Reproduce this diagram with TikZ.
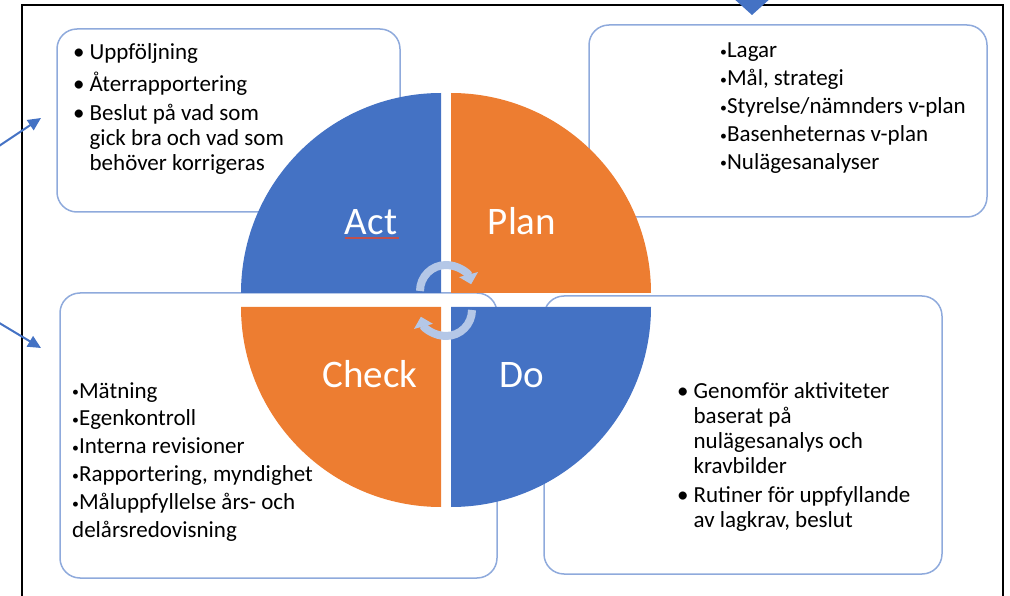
\documentclass[tikz,border=0pt]{standalone}
\usepackage{fontspec}
\usepackage{graphicx}
\setmainfont{Carlito}
\usetikzlibrary{arrows.meta}
\definecolor{pdblue}{HTML}{4472C4}
\definecolor{pdorange}{HTML}{ED7D31}
\definecolor{boxline}{HTML}{8FAADC}
\definecolor{cycleblue}{HTML}{B4C7E7}
\definecolor{spellred}{HTML}{C0504D}
\newcommand{\smallbul}{\raisebox{1.2pt}{\scalebox{0.6}{\textbullet}}}
\begin{document}
\begin{tikzpicture}[x=1pt,y=-1pt,
  infobox/.style={draw=boxline, line width=1.5pt, rounded corners=20pt},
  quadlabel/.style={anchor=base, inner sep=0pt, text=white, font=\fontsize{39}{42}\selectfont},
  listtext/.style={anchor=base west, inner sep=0pt, font=\fontsize{23}{25}\selectfont},
  listloose/.style={listtext, font=\fontsize{23}{27.8}\selectfont},
  pointer/.style={pdblue, line width=2pt, -{Triangle[length=13pt,width=12pt]}},
  cyclearrow/.style={cycleblue, line width=8pt, -{Triangle[length=10pt,width=19pt]}}]
\useasboundingbox (0,0) rectangle (1010,596);
% Frame
\draw[line width=2pt] (22,600) -- (22,5) -- (1003,5) -- (1003,600);
% Boxes
\draw[infobox] (57,29) rectangle (400,212);
\draw[infobox] (589,25) rectangle (987,217);
\draw[infobox] (60,293) rectangle (497,578);
\draw[infobox] (544,296) rectangle (942,574);
% Quadrants
\fill[pdblue] (441,293) -- ++(-200,0) arc[start angle=180, end angle=270, radius=200] -- cycle;
\fill[pdorange] (451,293) -- ++(0,-200) arc[start angle=270, end angle=360, radius=200] -- cycle;
\fill[pdorange] (441,307) -- ++(-200,0) arc[start angle=180, end angle=90, radius=200] -- cycle;
\fill[pdblue] (451,307) -- ++(200,0) arc[start angle=0, end angle=90, radius=200] -- cycle;
\node[quadlabel] (act) at (371,235) {Act};
\node[quadlabel] (plan) at (522,235) {Plan};
\node[quadlabel] (check) at (370,387) {Check};
\node[quadlabel] (do) at (522,387) {Do};
\draw[spellred, line width=1.3pt] (act.base west) ++(0,3) -- ++(54,0);
% Cycle arrows
\draw[cyclearrow] (446,291) ++(180:26) arc[start angle=180, end angle=345, radius=26];
\draw[cyclearrow] (446,310) ++(0:26) arc[start angle=0, end angle=165, radius=26];
% Lists
\node[listtext] (actlist) at (73,60) {\begin{tabular}[t]{@{}l@{\hspace{5pt}}l@{}}
\textbullet & Uppföljning\\[4.5pt]
\textbullet & Återrapportering\\[4.5pt]
\textbullet & Beslut på vad som\\
 & gick bra och vad som\\
 & behöver korrigeras
\end{tabular}};
\node[listloose] (planlist) at (720,58) {\begin{tabular}[t]{@{}l@{}}
\smallbul Lagar\\
\smallbul Mål, strategi\\
\smallbul Styrelse/nämnders v-plan\\
\smallbul Basenheternas v-plan\\
\smallbul Nulägesanalyser
\end{tabular}};
\node[listloose] (checklist) at (72,398) {\begin{tabular}[t]{@{}l@{}}
\smallbul Mätning\\
\smallbul Egenkontroll\\
\smallbul Interna revisioner\\
\smallbul Rapportering, myndighet\\
\smallbul Måluppfyllelse års- och\\
delårsredovisning
\end{tabular}};
\node[listtext] (dolist) at (677,398) {\begin{tabular}[t]{@{}l@{\hspace{5pt}}l@{}}
\textbullet & Genomför aktiviteter\\
 & baserat på\\
 & nulägesanalys och\\
 & kravbilder\\[4.5pt]
\textbullet & Rutiner för uppfyllande\\
 & av lagkrav, beslut
\end{tabular}};
% Pointers
\coordinate (actfrom) at (-4,148);
\coordinate (actto) at (41,118);
\coordinate (checkfrom) at (-4,321);
\coordinate (checkto) at (41,348);
\coordinate (topfrom) at (752,-40);
\coordinate (topto) at (752,15);
\draw[pointer] (actfrom) -- (actto);
\draw[pointer] (checkfrom) -- (checkto);
\draw[pdblue, line width=2pt, -{Triangle[length=20pt,width=44pt]}] (topfrom) -- (topto);
\end{tikzpicture}
\end{document}
